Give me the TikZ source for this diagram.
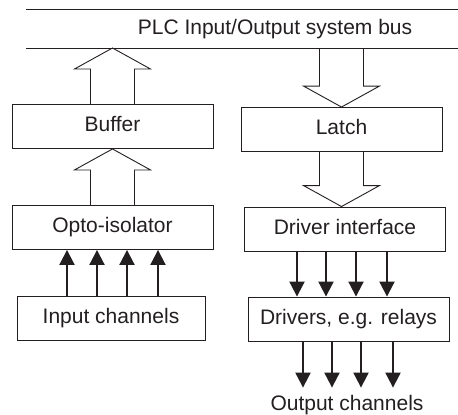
\documentclass[tikz,border=0pt]{standalone}
\usepackage{fontspec}
\setmainfont{Liberation Sans}
\usepackage{xcolor}
\usepackage{tikz}
\usetikzlibrary{calc,arrows.meta}
\definecolor{ink}{HTML}{231F20}
\tikzset{
  box/.style={draw=ink,line width=0.9pt,minimum width=201pt,minimum height=44pt,
    inner sep=0pt,text height=15pt,text depth=4.5pt},
  sig/.style={draw=ink,line width=2pt,-{Triangle[length=15pt,width=15pt]}},
  hollow/.style={draw=ink,line width=0.9pt,line join=miter}
}

\begin{document}
\begin{tikzpicture}[x=1pt,y=-1pt,every node/.style={font=\fontsize{21}{25}\selectfont,text=ink}]
		\useasboundingbox (0,0) rectangle (458,415);
		% bus
		\coordinate (busT) at (26,9);
		\coordinate (busB) at (26,48);
		\draw[ink,line width=0.9pt] (busT) -- (458,9);
		\draw[ink,line width=0.9pt] (busB) -- (458,48);
		\node (bus) at (275,29) {PLC Input/Output system bus};
		% boxes
		\node[box] (buffer) at (112.5,126.5) {Buffer};
		\node[box] (latch) at (341.5,129.5) {Latch};
		\node[box] (opto) at (112.5,227.5) {Opto-isolator};
		\node[box] (driver) at (345,229) {Driver interface};
		\node[box,minimum width=188pt] (input) at (111,318) {Input channels};
		\node[box] (drivers) at (348.5,319) {Drivers, e.g. relays};
		\node[anchor=base,inner sep=1pt] (out) at (347,410) {Output channels};
		% wide arrows
		\draw[hollow] ($(buffer.north)+(-22,0)$) -- ($(buffer.north |- busB)+(-22,21)$)
			-- ($(buffer.north |- busB)+(-38,21)$) -- (buffer.north |- busB)
			-- ($(buffer.north |- busB)+(38,21)$) -- ($(buffer.north |- busB)+(22,21)$)
			-- ($(buffer.north)+(22,0)$);
		\draw[hollow] ($(opto.north)+(-22,0)$) -- ($(buffer.south)+(-22,21)$)
			-- ($(buffer.south)+(-38,21)$) -- (buffer.south)
			-- ($(buffer.south)+(38,21)$) -- ($(buffer.south)+(22,21)$)
			-- ($(opto.north)+(22,0)$);
		\draw[hollow] ($(latch.north |- busB)+(-22,0)$) -- ($(latch.north)+(-22,-21)$)
			-- ($(latch.north)+(-38,-21)$) -- (latch.north)
			-- ($(latch.north)+(38,-21)$) -- ($(latch.north)+(22,-21)$)
			-- ($(latch.north |- busB)+(22,0)$);
		\draw[hollow] ($(latch.south)+(-22,0)$) -- ($(latch.south |- driver.north)+(-22,-21)$)
			-- ($(latch.south |- driver.north)+(-38,-21)$) -- (latch.south |- driver.north)
			-- ($(latch.south |- driver.north)+(38,-21)$) -- ($(latch.south |- driver.north)+(22,-21)$)
			-- ($(latch.south)+(22,0)$);
		% signal lines
		\foreach \x in {67,97,127,158}
			\draw[sig] (\x,0 |- input.north) -- (\x,0 |- opto.south);
		\foreach \x in {297,326,356,387}
			\draw[sig] (\x,0 |- driver.south) -- (\x,0 |- drivers.north);
		\foreach \x in {303,332,361,393}
			\draw[sig,shorten >=6pt] (\x,0 |- drivers.south) -- (\x,0 |- out.north);
	\end{tikzpicture}
\end{document}
